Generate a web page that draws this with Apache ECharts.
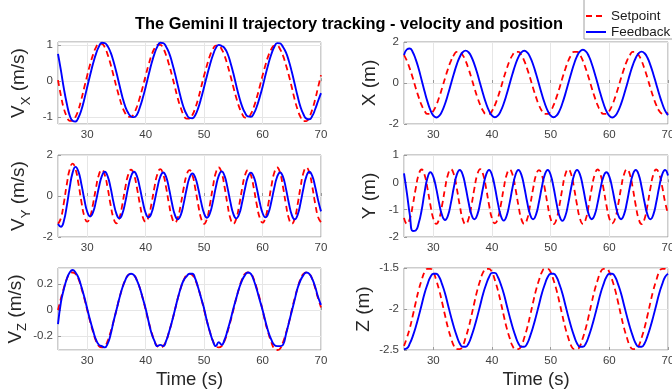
<!DOCTYPE html>
<html><head><meta charset="utf-8">
<script src="https://cdn.jsdelivr.net/npm/echarts@6/dist/echarts.min.js"></script>
<style>html,body{margin:0;padding:0;background:#fff}#c{width:672px;height:392px}</style>
</head><body><div id="c"></div>
<script>
const time = [25,25.5,26,26.5,27,27.5,28,28.5,29,29.5,30,30.5,31,31.5,32,32.5,33,33.5,34,34.5,
35,35.5,36,36.5,37,37.5,38,38.5,39,39.5,40,40.5,41,41.5,42,42.5,43,43.5,44,44.5,
45,45.5,46,46.5,47,47.5,48,48.5,49,49.5,50,50.5,51,51.5,52,52.5,53,53.5,54,54.5,
55,55.5,56,56.5,57,57.5,58,58.5,59,59.5,60,60.5,61,61.5,62,62.5,63,63.5,64,64.5,
65,65.5,66,66.5,67,67.5,68,68.5,69,69.5,70];

const legendNames = ['Setpoint', 'Feedback'];
const xTicks = [30, 40, 50, 60, 70];

const vxSet = [0.03,-0.40,-0.76,-0.98,-1.10,-1.10,-0.99,-0.79,-0.50,-0.17,
0.16,0.47,0.74,0.94,1.04,1.04,0.94,0.74,0.47,0.16,
-0.16,-0.45,-0.71,-0.89,-0.99,-0.99,-0.89,-0.71,-0.45,-0.16,
0.16,0.46,0.72,0.91,1.01,1.01,0.91,0.72,0.46,0.16,
-0.16,-0.48,-0.74,-0.94,-1.04,-1.04,-0.94,-0.74,-0.48,-0.16,
0.16,0.45,0.71,0.89,0.99,0.99,0.89,0.71,0.45,0.16,
-0.16,-0.46,-0.72,-0.91,-1.01,-1.01,-0.91,-0.72,-0.46,-0.16,
0.16,0.45,0.71,0.89,0.99,0.99,0.89,0.71,0.45,0.16,
-0.17,-0.51,-0.79,-1.00,-1.11,-1.11,-1.00,-0.79,-0.51,-0.17,
0.17];
const vxFb = [0.76,0.30,-0.20,-0.62,-0.95,-1.10,-1.12,-1.01,-0.80,-0.50,
-0.16,0.17,0.49,0.76,0.96,1.07,1.06,0.97,0.80,0.55,
0.24,-0.10,-0.43,-0.70,-0.88,-0.98,-1.00,-0.93,-0.73,-0.47,
-0.16,0.17,0.49,0.76,0.96,1.07,1.06,0.96,0.79,0.53,
0.22,-0.12,-0.45,-0.73,-0.92,-1.02,-1.03,-0.94,-0.74,-0.47,
-0.16,0.16,0.46,0.72,0.92,1.01,0.98,0.92,0.77,0.52,
0.22,-0.12,-0.44,-0.70,-0.88,-0.98,-0.99,-0.90,-0.71,-0.45,
-0.16,0.17,0.48,0.75,0.95,1.06,1.05,0.95,0.80,0.56,
0.26,-0.08,-0.42,-0.72,-0.92,-1.04,-1.06,-0.97,-0.78,-0.55,
-0.33];

const vySet = [-1.36,-1.08,-0.34,0.56,1.30,1.58,
1.31,0.60,-0.27,-0.98,-1.25,
-1.01,-0.38,0.40,1.04,1.28,
1.03,0.38,-0.43,-1.08,-1.33,
-1.08,-0.43,0.38,1.03,1.28,
1.04,0.40,-0.38,-1.02,-1.26,
-1.01,-0.37,0.42,1.06,1.31,
1.06,0.41,-0.40,-1.05,-1.30,
-1.06,-0.42,0.38,1.02,1.26,
1.01,0.35,-0.45,-1.11,-1.36,
-1.10,-0.41,0.44,1.13,1.39,
1.13,0.44,-0.41,-1.10,-1.36,
-1.11,-0.45,0.36,1.02,1.27,
1.02,0.38,-0.41,-1.05,-1.30,
-1.04,-0.37,0.46,1.13,1.39,
1.13,0.44,-0.41,-1.10,-1.36,
-1.10,-0.41,0.44,1.13,1.39,
1.14,0.47,-0.36,-1.02,-1.28];
const vyFb = [-1.36,-1.50,
-1.22,-0.49,0.41,1.14,1.42,
1.19,0.58,-0.16,-0.77,-1.00,
-0.79,-0.25,0.43,0.97,1.18,
0.96,0.40,-0.31,-0.87,-1.09,
-0.87,-0.31,0.40,0.96,1.18,
0.97,0.41,-0.27,-0.83,-1.04,
-0.83,-0.28,0.39,0.94,1.15,
0.93,0.36,-0.35,-0.92,-1.14,
-0.93,-0.37,0.33,0.89,1.10,
0.89,0.35,-0.31,-0.85,-1.06,
-0.84,-0.28,0.42,0.98,1.20,
0.98,0.41,-0.30,-0.87,-1.09,
-0.88,-0.32,0.37,0.93,1.14,
0.93,0.39,-0.29,-0.83,-1.04,
-0.83,-0.28,0.39,0.94,1.15,
0.93,0.36,-0.35,-0.92,-1.14,
-0.92,-0.34,0.38,0.96,1.18,
0.98,0.45,-0.20,-0.75];

const vzSet = [0.00,0.09,0.17,0.24,0.28,0.29,0.28,0.24,0.17,0.09,
0.00,-0.09,-0.17,-0.24,-0.28,-0.29,-0.28,-0.24,-0.17,-0.09,
0.00,0.09,0.17,0.23,0.27,0.28,0.27,0.23,0.17,0.09,
0.00,-0.09,-0.17,-0.24,-0.28,-0.29,-0.28,-0.24,-0.17,-0.09,
0.00,0.09,0.17,0.23,0.27,0.28,0.27,0.23,0.17,0.09,
0.00,-0.09,-0.17,-0.24,-0.28,-0.29,-0.28,-0.24,-0.17,-0.09,
0.00,0.09,0.17,0.24,0.28,0.29,0.28,0.24,0.17,0.09,
0.00,-0.10,-0.18,-0.25,-0.30,-0.31,-0.30,-0.25,-0.18,-0.10,
0.00,0.09,0.17,0.24,0.28,0.29,0.28,0.24,0.17,0.09,
0.02];
const vzFb = [-0.11,0.06,0.16,0.24,0.29,0.31,0.29,0.25,0.18,0.10,
0.01,-0.08,-0.16,-0.23,-0.27,-0.28,-0.29,-0.26,-0.19,-0.09,
0.00,0.09,0.17,0.23,0.27,0.28,0.27,0.23,0.17,0.09,
0.01,-0.09,-0.18,-0.24,-0.28,-0.27,-0.28,-0.24,-0.17,-0.09,
0.00,0.09,0.17,0.23,0.26,0.28,0.28,0.24,0.17,0.09,
0.01,-0.09,-0.17,-0.24,-0.28,-0.25,-0.27,-0.23,-0.16,-0.08,
0.01,0.09,0.17,0.23,0.27,0.29,0.28,0.23,0.16,0.08,
0.00,-0.09,-0.17,-0.23,-0.27,-0.28,-0.28,-0.27,-0.19,-0.10,
-0.01,0.08,0.17,0.23,0.27,0.29,0.28,0.24,0.18,0.10,
0.04];

const xSet = [1.36,1.08,0.69,0.24,-0.24,-0.69,-1.08,-1.36,-1.51,-1.51,
-1.36,-1.08,-0.69,-0.24,0.24,0.69,1.08,1.36,1.52,1.52,
1.36,1.08,0.69,0.24,-0.24,-0.69,-1.08,-1.36,-1.51,-1.51,
-1.36,-1.08,-0.69,-0.24,0.24,0.69,1.08,1.36,1.52,1.52,
1.36,1.08,0.69,0.24,-0.24,-0.69,-1.08,-1.36,-1.51,-1.51,
-1.36,-1.08,-0.69,-0.24,0.24,0.69,1.08,1.36,1.52,1.52,
1.36,1.08,0.69,0.24,-0.24,-0.69,-1.08,-1.36,-1.51,-1.51,
-1.36,-1.08,-0.69,-0.24,0.24,0.69,1.08,1.36,1.52,1.52,
1.36,1.08,0.69,0.24,-0.24,-0.69,-1.08,-1.36,-1.50,-1.52,
-1.45];
const xFb = [1.37,1.64,
1.68,1.50,1.15,0.69,0.15,-0.40,-0.91,-1.32,-1.59,-1.68,
-1.60,-1.37,-1.01,-0.55,-0.05,0.45,0.91,1.27,1.50,1.58,
1.50,1.27,0.91,0.46,-0.05,-0.55,-1.00,-1.36,-1.59,-1.67,
-1.59,-1.36,-1.00,-0.55,-0.05,0.45,0.90,1.26,1.49,1.57,
1.49,1.26,0.90,0.45,-0.05,-0.55,-1.00,-1.36,-1.59,-1.67,
-1.59,-1.36,-0.99,-0.53,-0.03,0.48,0.94,1.31,1.54,1.62,
1.54,1.31,0.94,0.48,-0.03,-0.54,-1.00,-1.37,-1.60,-1.68,
-1.60,-1.37,-1.02,-0.57,-0.08,0.42,0.87,1.22,1.45,1.53,
1.45,1.23,0.87,0.43,-0.06,-0.55,-0.99,-1.35,-1.57];

const ySet = [-1.30,-1.52,
-1.33,-0.83,-0.22,0.28,0.47,
0.28,-0.22,-0.83,-1.33,-1.52,
-1.33,-0.83,-0.22,0.29,0.48,
0.29,-0.22,-0.84,-1.34,-1.53,
-1.34,-0.84,-0.22,0.29,0.48,
0.28,-0.22,-0.83,-1.32,-1.50,
-1.32,-0.83,-0.22,0.28,0.47,
0.28,-0.23,-0.84,-1.34,-1.52,
-1.34,-0.84,-0.24,0.26,0.45,
0.27,-0.23,-0.84,-1.34,-1.53,
-1.34,-0.84,-0.22,0.29,0.48,
0.29,-0.22,-0.83,-1.33,-1.52,
-1.33,-0.83,-0.22,0.28,0.47,
0.28,-0.22,-0.83,-1.32,-1.50,
-1.32,-0.82,-0.21,0.29,0.48,
0.29,-0.22,-0.84,-1.34,-1.53,
-1.34,-0.84,-0.22,0.28,0.47,
0.30,-0.15,-0.72,-1.15];
const yFb = [0.33,-0.40,-1.20,-1.78,-1.76,
-1.50,-1.02,-0.37,0.16,0.37,
0.20,-0.23,-0.78,-1.21,-1.38,
-1.21,-0.75,-0.18,0.28,0.45,
0.28,-0.17,-0.73,-1.18,-1.35,
-1.18,-0.73,-0.17,0.28,0.45,
0.27,-0.19,-0.76,-1.22,-1.40,
-1.22,-0.76,-0.19,0.27,0.45,
0.28,-0.17,-0.73,-1.18,-1.35,
-1.18,-0.73,-0.17,0.28,0.45,
0.27,-0.19,-0.77,-1.23,-1.41,
-1.23,-0.77,-0.19,0.27,0.45,
0.28,-0.17,-0.73,-1.18,-1.35,
-1.19,-0.76,-0.22,0.21,0.37,
0.21,-0.22,-0.76,-1.19,-1.35,
-1.18,-0.73,-0.17,0.28,0.45,
0.28,-0.17,-0.73,-1.18,-1.35,
-1.18,-0.73,-0.17,0.28,0.45,
0.25];

const zSet = [-2.45,-2.35,-2.23,-2.08,-1.92,-1.77,-1.65,-1.55,-1.51,-1.51,
-1.55,-1.65,-1.77,-1.92,-2.08,-2.23,-2.35,-2.45,-2.49,-2.49,
-2.45,-2.35,-2.23,-2.08,-1.92,-1.77,-1.65,-1.55,-1.51,-1.51,
-1.55,-1.65,-1.77,-1.92,-2.08,-2.23,-2.35,-2.45,-2.49,-2.49,
-2.45,-2.35,-2.23,-2.08,-1.92,-1.77,-1.65,-1.55,-1.51,-1.51,
-1.55,-1.65,-1.77,-1.92,-2.08,-2.23,-2.35,-2.45,-2.49,-2.49,
-2.45,-2.35,-2.23,-2.08,-1.92,-1.77,-1.65,-1.55,-1.51,-1.51,
-1.55,-1.65,-1.77,-1.92,-2.08,-2.23,-2.35,-2.45,-2.49,-2.49,
-2.45,-2.35,-2.23,-2.08,-1.92,-1.77,-1.65,-1.55,-1.51,-1.51,
-1.55];
const zFb = [-2.49,-2.48,-2.42,-2.33,-2.22,-2.09,-1.95,-1.81,-1.70,-1.61,
-1.57,-1.57,-1.61,-1.70,-1.81,-1.95,-2.09,-2.22,-2.33,-2.42,
-2.46,-2.46,-2.42,-2.33,-2.22,-2.09,-1.95,-1.81,-1.70,-1.61,
-1.56,-1.56,-1.61,-1.70,-1.81,-1.95,-2.09,-2.22,-2.33,-2.42,
-2.46,-2.46,-2.42,-2.33,-2.22,-2.09,-1.95,-1.81,-1.70,-1.61,
-1.57,-1.57,-1.61,-1.70,-1.81,-1.95,-2.09,-2.22,-2.33,-2.42,
-2.46,-2.46,-2.42,-2.33,-2.22,-2.09,-1.95,-1.81,-1.70,-1.61,
-1.57,-1.57,-1.61,-1.70,-1.81,-1.95,-2.09,-2.22,-2.33,-2.42,
-2.46,-2.46,-2.42,-2.33,-2.22,-2.09,-1.95,-1.81,-1.70,-1.61,
-1.57];

const FONT = 'Liberation Sans, Arial, Helvetica, sans-serif';
const panels = [
  {box:{left:58,top:42,width:263,height:82}, set:vxSet, fb:vxFb, y:{min:-1.19,max:1.09,splitNumber:2}, edge:true, name:'{a|V}{b|X}{a| (m/s)}', sub:true},
  {box:{left:404,top:42,width:264,height:82}, set:xSet, fb:xFb, y:{min:-2,max:2,interval:2}, name:'X (m)'},
  {box:{left:58,top:155,width:263,height:82}, set:vySet, fb:vyFb, y:{min:-2,max:2,interval:2}, name:'{a|V}{b|Y}{a| (m/s)}', sub:true},
  {box:{left:404,top:155,width:264,height:82}, set:ySet, fb:yFb, y:{min:-2,max:1,interval:1}, name:'Y (m)'},
  {box:{left:58,top:268,width:263,height:82}, set:vzSet, fb:vzFb, y:{min:-0.31,max:0.325,splitNumber:3}, edge:true, name:'{a|V}{b|Z}{a| (m/s)}', sub:true, bottom:true},
  {box:{left:404,top:268,width:264,height:82}, set:zSet, fb:zFb, y:{min:-2.5,max:-1.5,interval:0.5}, name:'Z (m)', bottom:true}
];

const pairs = (vals) => time.map((t, i) => [t, vals[i]]);
const labelStyle = {fontSize: 11.5, color: '#404040', fontFamily: FONT, margin: 5};
const tickStyle = {inside: true, length: 3, lineStyle: {color: '#9a9a9a', width: 1}};
const splitStyle = {show: true, lineStyle: {color: '#e6e6e6', width: 1}};

const grids = [], xAxes = [], yAxes = [], series = [];
panels.forEach((p, i) => {
  grids.push(Object.assign({show: true, borderColor: '#9a9a9a', borderWidth: 1, backgroundColor: '#fff', containLabel: false, outerBoundsMode: 'none'}, p.box));
  xAxes.push({
    type: 'value', gridIndex: i, min: xTicks[0] - 5, max: xTicks[xTicks.length - 1], splitNumber: 4,
    axisLine: {show: false}, axisTick: tickStyle, splitLine: splitStyle,
    axisLabel: Object.assign({showMinLabel: false}, labelStyle),
    name: p.bottom ? 'Time (s)' : '', nameLocation: 'middle', nameGap: 16,
    nameTextStyle: {fontSize: 18.5, color: '#262626', fontFamily: FONT, lineHeight: 24}
  });
  const ya = Object.assign({
    type: 'value', gridIndex: i,
    axisLine: {show: false}, axisTick: tickStyle, splitLine: splitStyle,
    axisLabel: Object.assign({showMinLabel: !p.edge, showMaxLabel: !p.edge}, labelStyle),
    name: p.name, nameLocation: 'middle', nameRotate: 90
  }, p.y);
  if (p.sub) {
    ya.nameGap = 25;
    ya.nameTextStyle = {color: '#262626', fontFamily: FONT, rich: {
      a: {fontSize: 19, lineHeight: 28, color: '#262626', fontFamily: FONT},
      b: {fontSize: 13, lineHeight: 13, verticalAlign: 'bottom', color: '#262626', fontFamily: FONT}
    }};
  } else {
    ya.nameGap = 22;
    ya.nameTextStyle = {fontSize: 19, lineHeight: 24, color: '#262626', fontFamily: FONT};
  }
  yAxes.push(ya);
  series.push({
    name: legendNames[0], type: 'line', xAxisIndex: i, yAxisIndex: i, data: pairs(p.set),
    showSymbol: false, symbol: 'none', smooth: true, clip: true,
    lineStyle: {color: '#ff0000', width: 1.8, type: [6, 4]}, itemStyle: {color: '#ff0000'}
  });
  series.push({
    name: legendNames[1], type: 'line', xAxisIndex: i, yAxisIndex: i, data: pairs(p.fb),
    showSymbol: false, symbol: 'none', smooth: true, clip: true,
    lineStyle: {color: '#0000ff', width: 1.9}, itemStyle: {color: '#0000ff'}
  });
});

const chart = echarts.init(document.getElementById('c'), null, {renderer: 'canvas'});
chart.setOption({
  animation: false,
  backgroundColor: '#fff',
  textStyle: {fontFamily: FONT},
  title: {
    text: 'The Gemini II trajectory tracking - velocity and position',
    left: 349, top: 16, textAlign: 'center', padding: 0,
    textStyle: {fontSize: 16.4, fontWeight: 'bold', color: '#000', fontFamily: FONT}
  },
  legend: {
    data: legendNames, orient: 'vertical', left: 584, top: -6,
    padding: [15, 6, 0, 1], itemGap: 2, itemWidth: 20, itemHeight: 14,
    itemStyle: {opacity: 0},
    backgroundColor: '#fff', borderColor: '#a0a0a0', borderWidth: 1, borderRadius: 0,
    textStyle: {fontSize: 13.5, lineHeight: 14, color: '#1a1a1a', fontFamily: FONT}
  },
  grid: grids, xAxis: xAxes, yAxis: yAxes, series: series
});
</script></body></html>
